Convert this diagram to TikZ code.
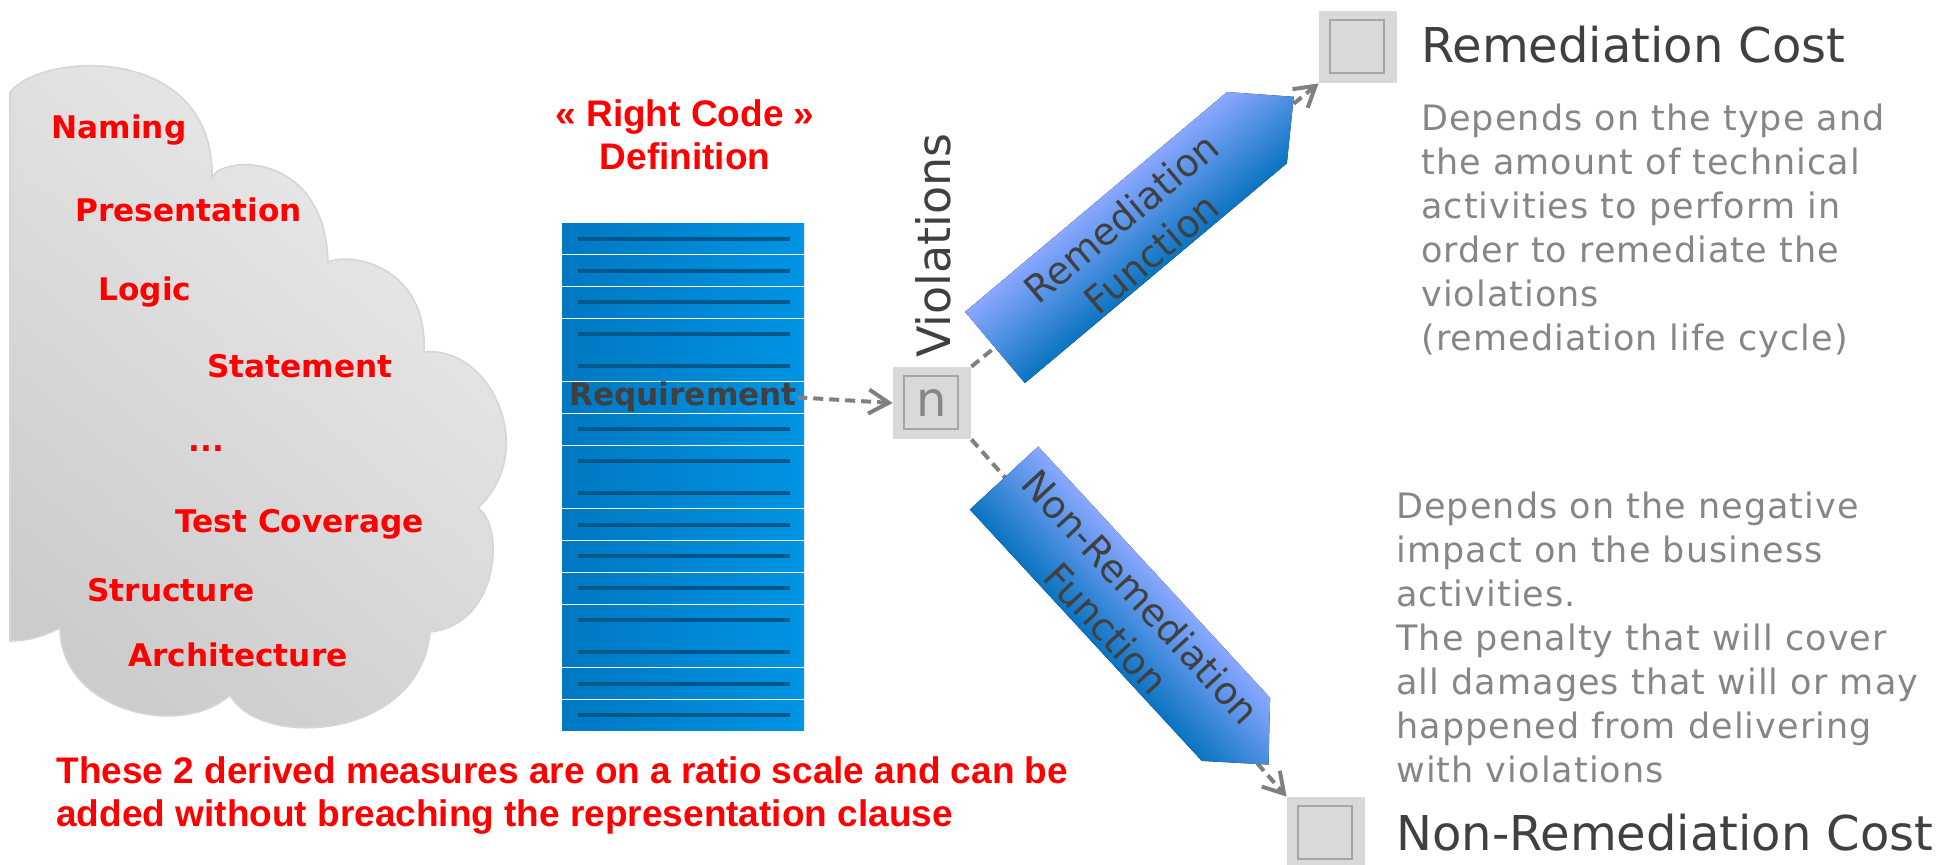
\documentclass[tikz,border=0pt]{standalone}
\usepackage{fontspec}
\setmainfont{DejaVu Sans}
\newfontfamily\arialfont{Liberation Sans}
\newfontfamily\widefont[LetterSpace=3]{DejaVu Sans}
\usetikzlibrary{arrows.meta,positioning}
\definecolor{lblred}{RGB}{255,0,0}
\definecolor{darktxt}{RGB}{64,64,64}
\definecolor{graytxt}{RGB}{134,134,134}
\definecolor{boxgray}{RGB}{217,217,217}
\definecolor{boxline}{RGB}{166,166,166}
\definecolor{linegray}{RGB}{128,128,128}
\definecolor{rowdark}{RGB}{0,120,194}
\definecolor{rowlight}{RGB}{0,148,228}
\definecolor{rowline}{RGB}{0,88,138}
\definecolor{arrlight}{RGB}{138,168,255}
\definecolor{arrdark}{RGB}{10,116,192}
\definecolor{cloudlight}{RGB}{236,236,236}
\definecolor{clouddark}{RGB}{204,204,204}
\definecolor{cloudedge}{RGB}{214,214,214}

\begin{document}
\begin{tikzpicture}[x=0.5pt,y=-0.5pt,every node/.style={inner sep=0pt}]
  \tikzstyle{nodeR}=[text=lblred,font=\bfseries\fontsize{15.6}{18}\selectfont,anchor=base west]
  \tikzstyle{nodeT}=[text=lblred,font=\arialfont\bfseries\fontsize{18.5}{21.5}\selectfont,align=center]
  \tikzstyle{nodeQ}=[text=darktxt,font=\bfseries\fontsize{15.6}{18}\selectfont,anchor=base]
  \tikzstyle{nodeC}=[text=darktxt,font=\fontsize{24}{28}\selectfont,anchor=base west]
  \tikzstyle{nodeP}=[text=graytxt,font=\widefont\fontsize{17.5}{22}\selectfont,align=left,anchor=north west]
  \tikzstyle{nodeF}=[text=darktxt,font=\fontsize{19}{23.5}\selectfont,align=center]
  \tikzstyle{nodeB}=[rectangle,fill=boxgray,minimum width=39pt,minimum height=36pt,
    path picture={\draw[boxline,line width=1pt]
      ([shift={(5.5pt,-4.5pt)}]path picture bounding box.north west) rectangle
      ([shift={(-6.5pt,5pt)}]path picture bounding box.south east);}]
  \tikzstyle{dashL}=[draw=linegray,line width=2pt,dash pattern=on 5pt off 3pt,
    -{Straight Barb[length=10pt,width=12pt]}]
  \tikzstyle{bandF}=[top color=arrlight,bottom color=arrdark]

  \useasboundingbox (0,0) rectangle (1948,865);

  \draw[draw=cloudedge,line width=0.8pt,top color=cloudlight,bottom color=clouddark,shading angle=-40]
    (10,92) .. controls (45,50) and (215,45) .. (212,178)
    .. controls (220,155) and (325,150) .. (328,262)
    .. controls (350,252) and (428,265) .. (424,352)
    .. controls (490,345) and (540,450) .. (478,508)
    .. controls (505,525) and (500,625) .. (430,632)
    .. controls (420,740) and (260,750) .. (230,695)
    .. controls (180,740) and (60,710) .. (60,628)
    .. controls (40,638) and (25,641) .. (10,641) -- cycle;

  \node[nodeR] (naming) at (51,139) {Naming};
  \node[nodeR] (present) at (75,222) {Presentation};
  \node[nodeR] (logic) at (98,301) {Logic};
  \node[nodeR] (stmt) at (207,378) {Statement};
  \node[nodeR] (etc) at (188,452) {...};
  \node[nodeR] (testcov) at (175,532) {Test Coverage};
  \node[nodeR] (struct) at (87,601) {Structure};
  \node[nodeR] (archi) at (128,666) {Architecture};

  \node[nodeT,anchor=north] (rcdef) at (685,99) {« Right Code »\\Definition};

  \foreach \k in {0,...,15} {
    \fill[left color=rowdark,right color=rowlight] (562,{224+\k*31.75}) rectangle (804,{254+\k*31.75});
    \ifnum\k=5 \else
      \fill[rowline] (578,{237+\k*31.75}) rectangle (790,{241+\k*31.75});
    \fi
  }
  \node[nodeQ] (req) at (683,406) {Requirement};

  \node[nodeB,text=graytxt,font=\fontsize{24}{28}\selectfont] (nbox) at (932,403) {n};
  \node[text=darktxt,font=\fontsize{23}{28}\selectfont,rotate=90,anchor=base west] (viol) at (950,358) {Violations};
  \node[nodeB] (remcost) at (1358,47) {};
  \node[nodeB] (nonremcost) at (1326,833) {};

  \draw[dashL] (req.east) -- (nbox.west);
  \draw[dashL] (nbox.north east) -- (remcost.south west);
  \draw[dashL] (nbox.south east) -- (nonremcost.north west);

  \begin{scope}[transform canvas={shift={(995,347.5)},rotate=40}]
    \fill[bandF] (0,-46.5) -- (342,-46.5) -- (390,0) -- (342,46.5) -- (0,46.5) -- cycle;
    \node[nodeF] (remfun) at (180,5) {Remediation\\Function};
  \end{scope}
  \begin{scope}[transform canvas={shift={(1004,478)},rotate=-47.3}]
    \fill[bandF] (0,-46.5) -- (342,-46.5) -- (390,0) -- (342,46.5) -- (0,46.5) -- cycle;
    \node[nodeF] (nonremfun) at (180,3) {Non-Remediation\\Function};
  \end{scope}

  \node[nodeC] (remtitle) at (1421,63) {Remediation Cost};
  \node[nodeP] (remtext) at (1421,104) {Depends on the type and\\the amount of technical\\activities to perform in\\order to remediate the\\violations\\(remediation life cycle)};
  \node[nodeP] (nonremtext) at (1396,492) {Depends on the negative\\impact on the business\\activities.\\The penalty that will cover\\all damages that will or may\\happened from delivering\\with violations};
  \node[nodeC] (nonremtitle) at (1396,850) {Non-Remediation Cost};

  \node[nodeT,align=left,anchor=north west] (note) at (56,756) {These 2 derived measures are on a ratio scale and can be\\added without breaching the representation clause};
\end{tikzpicture}
\end{document}
